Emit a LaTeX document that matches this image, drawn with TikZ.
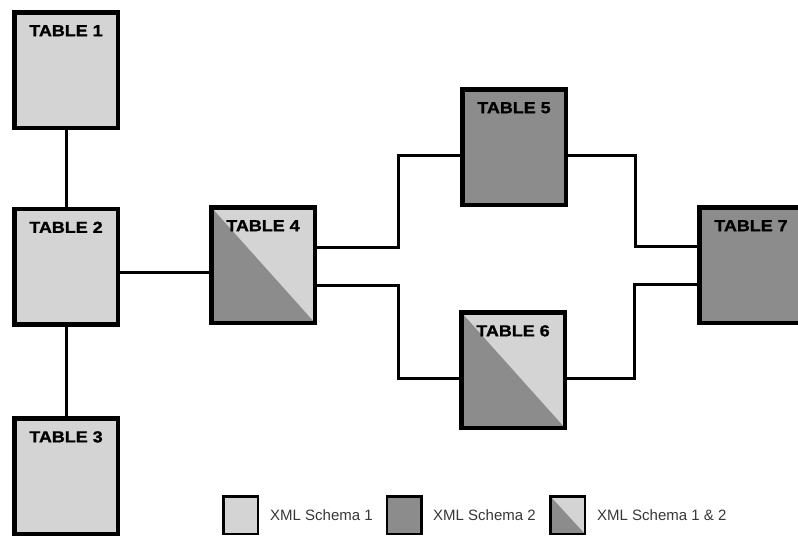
\documentclass[tikz,border=0pt]{standalone}
\usepackage{fontspec}
\setmainfont{Liberation Sans}
\newfontfamily\tabfont[FakeStretch=1.12,FakeBold=1.2]{Liberation Sans}
\definecolor{lite}{RGB}{212,212,212}
\definecolor{dark}{RGB}{140,140,140}
\definecolor{legtext}{RGB}{55,55,55}
\tikzset{
  tbl/.style={draw=black, line width=4.5pt, fill=lite, minimum width=103.5pt,
    minimum height=115.5pt, inner sep=0pt,
    label={[anchor=north, yshift=-15pt, inner sep=0pt, font=\tabfont\bfseries\fontsize{16}{16}\selectfont]north:#1}},
  darktbl/.style={tbl=#1, fill=dark},
  splittbl/.style={tbl=#1, path picture={\fill[dark] (path picture bounding box.north west) -- (path picture bounding box.south west) -- (path picture bounding box.south east) -- cycle;}},
  conn/.style={draw=black, line width=3pt},
  legbox/.style={draw=black, line width=2.5pt, fill=lite, minimum width=34.5pt, minimum height=37.5pt, inner sep=0pt},
  legtxt/.style={anchor=west, inner sep=0pt, text=legtext, font=\fontsize{15}{15}\selectfont}
}
\begin{document}
\begin{tikzpicture}[x=1pt, y=-1pt]
\useasboundingbox (0,0) rectangle (798,538);
% tables
\node[tbl={TABLE 1}] (T1) at (66,70) {};
\node[tbl={TABLE 2}] (T2) at (66,266.5) {};
\node[tbl={TABLE 3}] (T3) at (66,476) {};
\node[splittbl={TABLE 4}] (T4) at (263,265) {};
\node[darktbl={TABLE 5}] (T5) at (514,147) {};
\node[splittbl={TABLE 6}] (T6) at (513,370) {};
\node[darktbl={TABLE 7}] (T7) at (751,265) {};
% connectors
\draw[conn] (T1.south) -- (T2.north);
\draw[conn] (T2.south) -- (T3.north);
\draw[conn] ([yshift=-6pt]T2.east) -- ([yshift=-6pt]T2.east -| T4.west);
\draw[conn] ([yshift=18pt]T4.east) -- ++(81,0) |- ([yshift=-8pt]T5.west);
\draw[conn] ([yshift=-20pt]T4.east) -- ++(81,0) |- ([yshift=-8pt]T6.west);
\draw[conn] ([yshift=-8pt]T5.east) -- ++(67,0) |- ([yshift=19pt]T7.west);
\draw[conn] ([yshift=-8pt]T6.east) -- ++(67,0) |- ([yshift=-19pt]T7.west);
% legend
\node[legbox] (L1) at (240.5,515) {};
\node[legtxt] (L1t) at (270,515) {XML Schema 1};
\node[legbox, fill=dark] (L2) at (404,515) {};
\node[legtxt] (L2t) at (433,515) {XML Schema 2};
\node[legbox, path picture={\fill[dark] (path picture bounding box.north west) -- (path picture bounding box.south west) -- (path picture bounding box.south east) -- cycle;}] (L3) at (567.5,515) {};
\node[legtxt] (L3t) at (597,515) {XML Schema 1 \& 2};
\end{tikzpicture}
\end{document}
